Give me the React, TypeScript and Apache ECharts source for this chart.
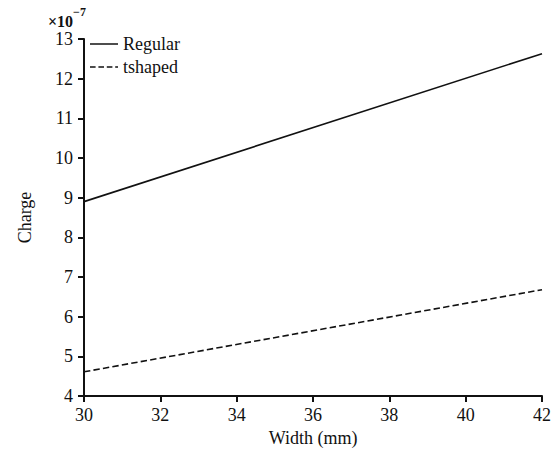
import React, { useEffect, useRef } from "react";
import * as echarts from "echarts";

const widths = [30, 42];
const regular = [8.9, 12.63];
const tshaped = [4.61, 6.68];
const seriesNames = ["Regular", "tshaped"];

const FONT = "serif";
const INK = "#111";

const SOLID_ICON = "path://M0,0H30V1.6H0Z";
const DASH_ICON = "path://M0,0H6V1.6H0Z M9,0H15V1.6H9Z M18,0H24V1.6H18Z M27,0H30V1.6H27Z";

export default function App() {
  const ref = useRef<HTMLDivElement>(null);
  useEffect(() => {
    const chart = echarts.init(ref.current!, undefined, { renderer: "svg" });
    chart.setOption({
      animation: false,
      color: [INK, INK],
      title: {
        text: "{a|×10}{b|−7}",
        left: 48,
        top: 3,
        padding: 0,
        textStyle: {
          rich: {
            a: { fontFamily: FONT, fontSize: 16, color: INK, padding: [10, 0, 0, 0] },
            b: { fontFamily: FONT, fontSize: 12, color: INK, padding: [0, 0, 8, 0] },
          },
        },
      },
      legend: {
        left: 90,
        top: 35,
        padding: 0,
        orient: "vertical",
        itemWidth: 28,
        itemHeight: 2,
        itemGap: 5,
        data: [
          { name: seriesNames[0], icon: SOLID_ICON },
          { name: seriesNames[1], icon: DASH_ICON },
        ],
        textStyle: { fontFamily: FONT, fontSize: 18, color: INK, lineHeight: 18 },
      },
      grid: { left: 84, right: 17, top: 39, bottom: 74 },
      xAxis: {
        type: "value",
        min: 30,
        max: 42,
        interval: 2,
        name: "Width (mm)",
        nameLocation: "middle",
        nameGap: 25,
        nameTextStyle: { fontFamily: FONT, fontSize: 18, color: INK },
        axisLine: { lineStyle: { color: INK, width: 2 } },
        axisTick: { inside: false, length: 6, lineStyle: { color: INK, width: 2 } },
        axisLabel: { color: INK, fontSize: 18, fontFamily: FONT, margin: 10 },
        splitLine: { show: false },
      },
      yAxis: {
        type: "value",
        min: 4,
        max: 13,
        interval: 1,
        name: "Charge",
        nameLocation: "middle",
        nameGap: 50,
        nameRotate: 90,
        nameTextStyle: { fontFamily: FONT, fontSize: 18, color: INK },
        axisLine: { show: true, lineStyle: { color: INK, width: 2 } },
        axisTick: { show: true, inside: false, length: 6, lineStyle: { color: INK, width: 2 } },
        axisLabel: { color: INK, fontSize: 18, fontFamily: FONT, margin: 11 },
        splitLine: { show: false },
      },
      series: [
        {
          name: seriesNames[0],
          type: "line",
          symbol: "none",
          data: widths.map((w, i) => [w, regular[i]]),
          lineStyle: { color: INK, width: 1.6 },
        },
        {
          name: seriesNames[1],
          type: "line",
          symbol: "none",
          data: widths.map((w, i) => [w, tshaped[i]]),
          lineStyle: { color: INK, width: 1.6, type: "dashed" },
        },
      ],
    });
    return () => chart.dispose();
  }, []);
  return (
    <div
      ref={ref}
      style={{ width: 559, height: 470, position: "fixed", left: 0, top: 0, background: "#fff" }}
    />
  );
}
